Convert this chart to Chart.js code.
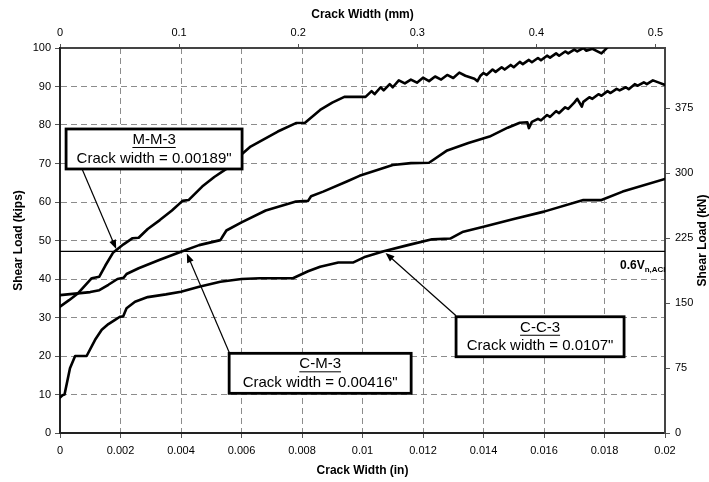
<!DOCTYPE html>
<html><head><meta charset="utf-8">
<script src="https://cdn.jsdelivr.net/npm/chart.js@4"></script>
<style>html,body{margin:0;padding:0;background:#fff}#wrap{width:709px;height:482px;position:relative}</style>
</head><body><div id="wrap"><canvas id="c"></canvas></div>
<script>
// ---- data (crack width in inches, shear load in kips) ----
const mm3 = [[0,32.8],[0.0003,34.5],[0.0006,36.3],[0.00105,40.2],[0.0013,40.6],[0.0015,43.5],[0.00175,46.8],[0.0021,49.0],[0.0024,50.6],[0.0026,50.7],[0.0029,53.0],[0.0033,55.3],[0.0037,57.8],[0.00405,60.3],[0.00425,60.5],[0.0047,64.0],[0.0051,66.5],[0.0055,68.6],[0.0058,71.0],[0.0063,74.4],[0.0072,78.3],[0.0078,80.5],[0.0081,80.6],[0.0086,83.9],[0.009,85.8],[0.0094,87.3],[0.0101,87.3],
[0.0103,88.8],[0.0104,88.0],[0.0106,89.8],[0.0107,89.0],[0.0109,90.6],[0.011,89.8],[0.0112,91.6],[0.0114,90.8],[0.0116,91.8],[0.0118,91.0],[0.012,92.3],[0.0122,91.4],[0.0124,92.6],[0.0126,91.8],[0.0128,93.0],[0.013,92.2],[0.0132,93.6],[0.0134,92.8],[0.0137,92.0],[0.0138,91.4],[0.0139,92.8],[0.014,93.5],[0.0141,93.0],[0.0143,94.4],[0.0144,93.8],[0.0146,95.0],[0.0147,94.4],[0.0149,95.6],[0.015,95.0],[0.0152,96.4],[0.0153,95.8],[0.0155,96.9],[0.0156,96.3],[0.0158,97.4],[0.0159,96.8],[0.0161,98.0],[0.0162,97.5],[0.0164,98.6],[0.0165,98.0],[0.0167,99.1],[0.0168,98.6],[0.017,99.6],[0.0171,99.1],[0.0173,100.0],[0.0174,99.3],[0.0176,99.8],[0.0178,99.0],[0.0179,98.6],[0.018,99.4],[0.0181,100.2]];
const cm3 = [[0,35.8],[0.0005,36.2],[0.001,36.6],[0.0013,37.1],[0.0016,38.5],[0.0019,40.0],[0.0021,40.3],[0.0022,41.3],[0.0026,42.8],[0.0033,45.0],[0.004,47.1],[0.0046,48.8],[0.0053,50.1],[0.00535,50.7],[0.0055,52.6],[0.006,54.7],[0.0068,57.8],[0.0078,60.1],[0.0082,60.3],[0.0083,61.5],[0.0087,62.7],[0.0095,65.4],[0.0099,66.8],[0.011,69.6],[0.0116,70.1],[0.0122,70.2],[0.0128,73.4],[0.0135,75.3],[0.0142,77.0],[0.0148,79.3],[0.0152,80.6],[0.01545,80.7],[0.0155,79.2],[0.0156,80.8],
[0.0158,81.6],[0.0159,81.2],[0.0161,82.6],[0.0162,82.1],[0.0164,83.6],[0.0165,83.1],[0.0167,84.6],[0.0168,84.2],[0.017,85.8],[0.0171,86.8],[0.01725,84.8],[0.0173,86.0],[0.0175,87.2],[0.0176,86.8],[0.0178,88.0],[0.0179,87.6],[0.0181,88.8],[0.0182,88.3],[0.0184,89.4],[0.0185,89.0],[0.0187,89.8],[0.0188,89.3],[0.019,90.6],[0.0191,90.2],[0.0193,91.1],[0.0194,90.6],[0.0196,91.6],[0.0198,91.0],[0.02,90.4]];
const cc3 = [[0,9.2],[0.0001,9.9],[0.00015,10.0],[0.00033,16.8],[0.0005,20.0],[0.00088,20.0],[0.00116,24.2],[0.00138,26.8],[0.0016,28.3],[0.00182,29.4],[0.00198,30.2],[0.00209,30.3],[0.0022,32.4],[0.00248,34.1],[0.0029,35.3],[0.0035,36.0],[0.004,36.7],[0.0046,38.0],[0.0053,39.3],[0.006,40.0],[0.0066,40.2],[0.0077,40.2],[0.0082,42.0],[0.0086,43.2],[0.0092,44.3],[0.0097,44.3],[0.0101,45.8],[0.0107,47.2],[0.0115,48.8],[0.0123,50.3],[0.0129,50.5],[0.0133,52.2],[0.014,53.6],[0.015,55.6],[0.016,57.5],[0.0173,60.5],[0.0179,60.5],[0.0186,62.7],[0.02,66.0]];
const limitLoad = 47.2;           // 0.6 Vn,ACI (kips)
const limitLabel = '0.6V';
const limitSub = 'n,ACI';
const xTicksIn = [0,0.002,0.004,0.006,0.008,0.01,0.012,0.014,0.016,0.018,0.02];
const xTickLabelsIn = ['0','0.002','0.004','0.006','0.008','0.01','0.012','0.014','0.016','0.018','0.02'];
const xTicksMm = [0,0.1,0.2,0.3,0.4,0.5];
const xTickLabelsMm = ['0','0.1','0.2','0.3','0.4','0.5'];
const yTicksKips = [0,10,20,30,40,50,60,70,80,90,100];
const yTicksKN = [0,75,150,225,300,375];
const noteNames = ['M-M-3','C-M-3','C-C-3'];
const noteTexts = ['Crack width = 0.00189"','Crack width = 0.00416"','Crack width = 0.0107"'];
const noteWidths = [0.00189,0.00416,0.0107];   // crack width at 0.6Vn (in)

// ---- layout (not data) ----
const F = '"Liberation Sans", Arial, sans-serif';
const boxLayout = [
  {cx:0.00311, cy:73.77, w:176, h:40, sx:16, sy:40},
  {cx:0.0086,  cy:15.5,  w:182, h:40, sx:0,  sy:-1},
  {cx:0.01587, cy:25.0,  w:168, h:40, sx:0,  sy:-1}
];

const pts = a => a.map(p => ({x:p[0], y:p[1]}));
const line = (d, w) => ({data: pts(d), showLine:true, borderColor:'#000', backgroundColor:'#000', borderWidth:w, pointRadius:0, tension:0, borderJoinStyle:'round', borderCapStyle:'round', xAxisID:'x', yAxisID:'y'});

const overlay = {
  id:'overlay',
  afterDatasetsDraw(chart){
    const {ctx, scales:{x, y}} = chart;
    ctx.save();
    // limit label
    const ly = y.getPixelForValue(limitLoad);
    ctx.fillStyle = '#000';
    ctx.textBaseline = 'alphabetic';
    ctx.font = 'bold 12px ' + F;
    const lx = x.right - 45;
    ctx.textAlign = 'left';
    ctx.fillText(limitLabel, lx, ly + 18);
    const lw = ctx.measureText(limitLabel).width;
    ctx.font = 'bold 8px ' + F;
    ctx.fillText(limitSub, lx + lw, ly + 21);
    // annotations
    noteNames.forEach((name, i) => {
      const b = boxLayout[i];
      const cx = x.getPixelForValue(b.cx), cy = y.getPixelForValue(b.cy);
      const L = cx - b.w/2, T = cy - b.h/2;
      const sx = L + b.sx, sy = T + b.sy;
      const px = x.getPixelForValue(noteWidths[i]), py = y.getPixelForValue(limitLoad);
      const dx = px - sx, dy = py - sy, len = Math.hypot(dx, dy);
      const ux = dx/len, uy = dy/len;
      const tx = px - ux*2.5, ty = py - uy*2.5;
      ctx.strokeStyle = '#000'; ctx.lineWidth = 1.2;
      ctx.beginPath(); ctx.moveTo(sx, sy); ctx.lineTo(tx - ux*6, ty - uy*6); ctx.stroke();
      ctx.beginPath();
      ctx.moveTo(tx, ty);
      ctx.lineTo(tx - ux*9 - uy*3.5, ty - uy*9 + ux*3.5);
      ctx.lineTo(tx - ux*9 + uy*3.5, ty - uy*9 - ux*3.5);
      ctx.closePath(); ctx.fill();
      // box
      ctx.fillStyle = '#fff';
      ctx.fillRect(L, T, b.w, b.h);
      ctx.lineWidth = 2.8; ctx.strokeStyle = '#000';
      ctx.strokeRect(L, T, b.w, b.h);
      ctx.fillStyle = '#000';
      ctx.font = '15px ' + F;
      ctx.textAlign = 'center'; ctx.textBaseline = 'middle';
      ctx.fillText(name, cx, T + 11);
      const nw = ctx.measureText(name).width;
      ctx.lineWidth = 1;
      ctx.beginPath(); ctx.moveTo(cx - nw/2, T + 18.5); ctx.lineTo(cx + nw/2, T + 18.5); ctx.stroke();
      ctx.fillText(noteTexts[i], cx, T + 29.5);
    });
    // right axis title (reads bottom-to-top)
    ctx.font = 'bold 12px ' + F;
    ctx.textAlign = 'center'; ctx.textBaseline = 'middle';
    ctx.translate(chart.width - 6, (y.top + y.bottom)/2);
    ctx.rotate(-Math.PI/2);
    ctx.fillText('Shear Load (kN)', 0, 0);
    ctx.restore();
  }
};

const tickFont = {family:F, size:11};
const titleFont = {family:F, size:12, weight:'bold'};
const gridColor = '#8c8c8c';

new Chart(document.getElementById('c'), {
  type:'scatter',
  data:{datasets:[ line(mm3, 2.6), line(cm3, 2.6), line(cc3, 2.6),
    {data:[{x:0,y:limitLoad},{x:0.02,y:limitLoad}], showLine:true, borderColor:'#000', borderWidth:1.3, pointRadius:0, xAxisID:'x', yAxisID:'y'} ]},
  options:{
    responsive:true, maintainAspectRatio:false, animation:false,
    layout:{padding:0},
    plugins:{legend:{display:false}, tooltip:{enabled:false}},
    scales:{
      x:{type:'linear', position:'bottom', min:0, max:0.02,
        afterBuildTicks:s => { s.ticks = xTicksIn.map(v => ({value:v})); },
        ticks:{callback:(v,i) => xTickLabelsIn[i], font:tickFont, color:'#000', padding:6, maxRotation:0, autoSkip:false},
        grid:{color:gridColor, lineWidth:1, tickLength:5, tickColor:'#555'},
        border:{display:true, color:'#222', width:2, dash:[6,4]},
        title:{display:true, text:'Crack Width (in)', font:titleFont, color:'#000', padding:{top:0, bottom:4}},
        afterFit:s => { s.height = 49; }
      },
      x2:{type:'linear', position:'top', min:0, max:0.508,
        afterBuildTicks:s => { s.ticks = xTicksMm.map(v => ({value:v})); },
        ticks:{callback:(v,i) => xTickLabelsMm[i], font:tickFont, color:'#000', padding:4, maxRotation:0, autoSkip:false},
        grid:{drawOnChartArea:false, tickLength:4, tickColor:'#555'},
        border:{display:true, color:'#444', width:2},
        title:{display:true, text:'Crack Width (mm)', font:titleFont, color:'#000', padding:{top:7, bottom:0}},
        afterFit:s => { s.height = 48; }
      },
      y:{type:'linear', position:'left', min:0, max:100,
        afterBuildTicks:s => { s.ticks = yTicksKips.map(v => ({value:v})); },
        ticks:{font:tickFont, color:'#000', padding:4},
        grid:{color:gridColor, lineWidth:1, tickLength:5, tickColor:'#555'},
        border:{display:true, color:'#222', width:2, dash:[6,4]},
        title:{display:true, text:'Shear Load (kips)', font:titleFont, color:'#000', padding:{top:11, bottom:0}},
        afterFit:s => { s.width = 60; }
      },
      y2:{type:'linear', position:'right', min:0, max:444.82,
        afterBuildTicks:s => { s.ticks = yTicksKN.map(v => ({value:v})); },
        ticks:{font:tickFont, color:'#000', padding:5},
        grid:{drawOnChartArea:false, tickLength:5, tickColor:'#555'},
        border:{display:true, color:'#444', width:2},
        afterFit:s => { s.width = 44; }
      }
    }
  },
  plugins:[overlay]
});
</script>
</body></html>
